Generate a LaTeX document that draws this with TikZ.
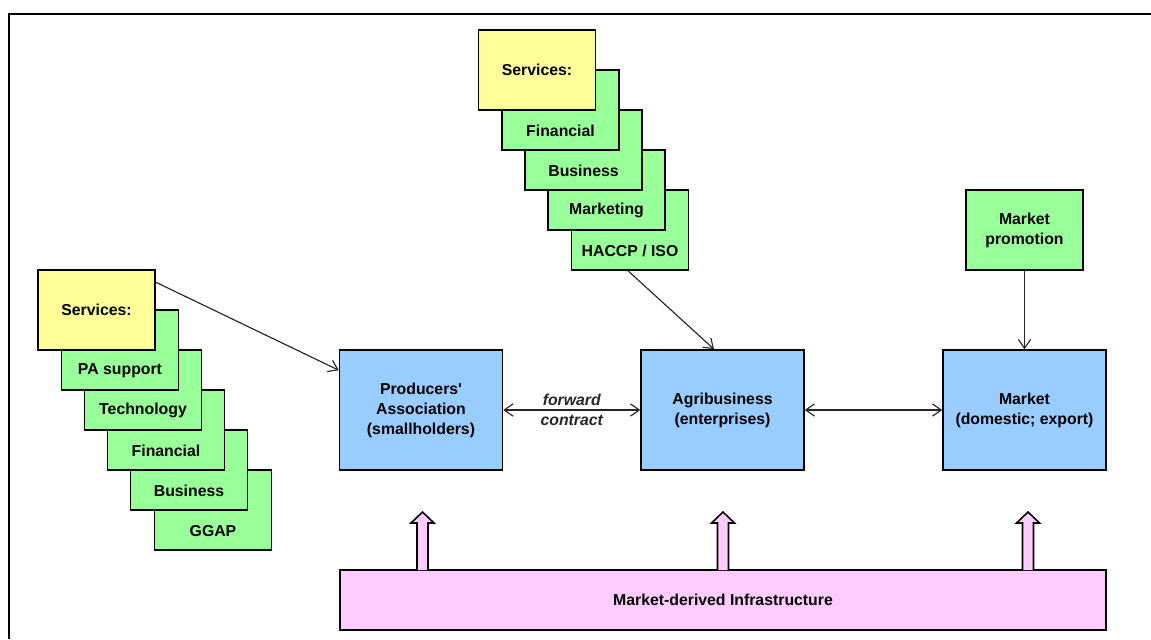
\documentclass[tikz,border=0pt]{standalone}
\usepackage{fontspec}
\setmainfont{Liberation Sans}
\usetikzlibrary{arrows.meta}
\definecolor{svcyellow}{HTML}{FFFF99}
\definecolor{svcgreen}{HTML}{99FF99}
\definecolor{actorblue}{HTML}{99CCFF}
\definecolor{infrapink}{HTML}{FFCCFF}
\tikzset{
	box/.style={draw=black, line width=0.9pt, minimum width=2.34cm, minimum height=1.6cm, inner sep=0pt, font=\bfseries\fontsize{9}{11.4}\selectfont, align=center},
	yellowbox/.style={box, fill=svcyellow},
	greenbox/.style={box, fill=svcgreen},
	actor/.style={box, fill=actorblue, minimum width=3.26cm, minimum height=2.4cm},
	boxtext/.style={font=\bfseries\fontsize{9}{11.4}\selectfont, inner sep=0pt},
	link/.style={line width=0.65pt, color=black!85},
	blockarrow/.style={draw=black, line width=0.9pt, fill=infrapink}
}
\begin{document}
\begin{tikzpicture}[x=0.02cm, y=-0.02cm]
			%%%%% START %%%%%
			\useasboundingbox (0, 0) rectangle (1151, 639);
			\draw[line width=1pt] (1151, 14) -- (9, 14) -- (9, 639);
			
			% left stack of services
			\node[greenbox] (ggap) at (213, 510) {};
			\node[boxtext] at ([yshift=0.4cm]ggap.south) {GGAP};
			\node[greenbox] (busL) at (189, 470) {};
			\node[boxtext] at ([yshift=0.4cm]busL.south) {Business};
			\node[greenbox] (finL) at (166, 430) {};
			\node[boxtext] at ([yshift=0.4cm]finL.south) {Financial};
			\node[greenbox] (tech) at (143, 390) {};
			\node[boxtext] at ([yshift=0.4cm]tech.south) {Technology};
			\node[greenbox] (pasup) at (120, 350) {};
			\node[boxtext] at ([yshift=0.4cm]pasup.south) {PA support};
			\node[yellowbox] (svcL) at (96.5, 310) {Services:};
			
			% top stack of services
			\node[greenbox] (haccp) at (630, 230) {};
			\node[boxtext] at ([yshift=0.4cm]haccp.south) {HACCP / ISO};
			\node[greenbox] (mktg) at (606.5, 190) {};
			\node[boxtext] at ([yshift=0.4cm]mktg.south) {Marketing};
			\node[greenbox] (busT) at (583.5, 150) {};
			\node[boxtext] at ([yshift=0.4cm]busT.south) {Business};
			\node[greenbox] (finT) at (560.5, 110) {};
			\node[boxtext] at ([yshift=0.4cm]finT.south) {Financial};
			\node[yellowbox] (svcT) at (537, 70) {Services:};
			
			\node[greenbox] (promo) at (1024.5, 230) {Market\\promotion};
			
			% chain actors
			\node[actor] (pa) at (421, 410) {Producers\textquotesingle\\Association\\(smallholders)};
			\node[actor] (agri) at (722.5, 410) {Agribusiness\\(enterprises)};
			\node[actor] (market) at (1024.5, 410) {Market\\(domestic; export)};
			
			\node[box, fill=infrapink, minimum width=15.32cm, minimum height=1.2cm] (infra) at (723, 600) {Market-derived Infrastructure};
			
			% block arrows
			\draw[blockarrow] (417, 570) -- (417, 523) -- (411, 523) -- (422.5, 512) -- (434, 523) -- (428, 523) -- (428, 570);
			\draw[blockarrow] (717.5, 570) -- (717.5, 523) -- (711.5, 523) -- (723, 512) -- (734.5, 523) -- (728.5, 523) -- (728.5, 570);
			\draw[blockarrow] (1022.5, 570) -- (1022.5, 523) -- (1016.5, 523) -- (1028, 512) -- (1039.5, 523) -- (1033.5, 523) -- (1033.5, 570);
			
			% connectors
			\draw[link, -{Straight Barb[length=5pt,width=7pt]}] ([yshift=-0.26cm]svcL.north east) -- ([yshift=-0.42cm]pa.north west);
			\draw[link, -{Straight Barb[length=5pt,width=7pt]}] ([xshift=-0.04cm]haccp.south) -- ([xshift=-0.17cm]agri.north);
			\draw[link, -{Straight Barb[length=5pt,width=7pt]}] (promo) -- (market);
			\draw[link, {Straight Barb[length=5pt,width=7pt]}-{Straight Barb[length=5pt,width=7pt]}] (pa) -- node[font=\bfseries\itshape\fontsize{9}{11.4}\selectfont, align=center, inner sep=0pt] (fwd) {forward\\contract} (agri);
			\draw[link, {Straight Barb[length=5pt,width=7pt]}-{Straight Barb[length=5pt,width=7pt]}] (agri) -- (market);
			
			%%%%% END %%%%%
\end{tikzpicture}
\end{document}
